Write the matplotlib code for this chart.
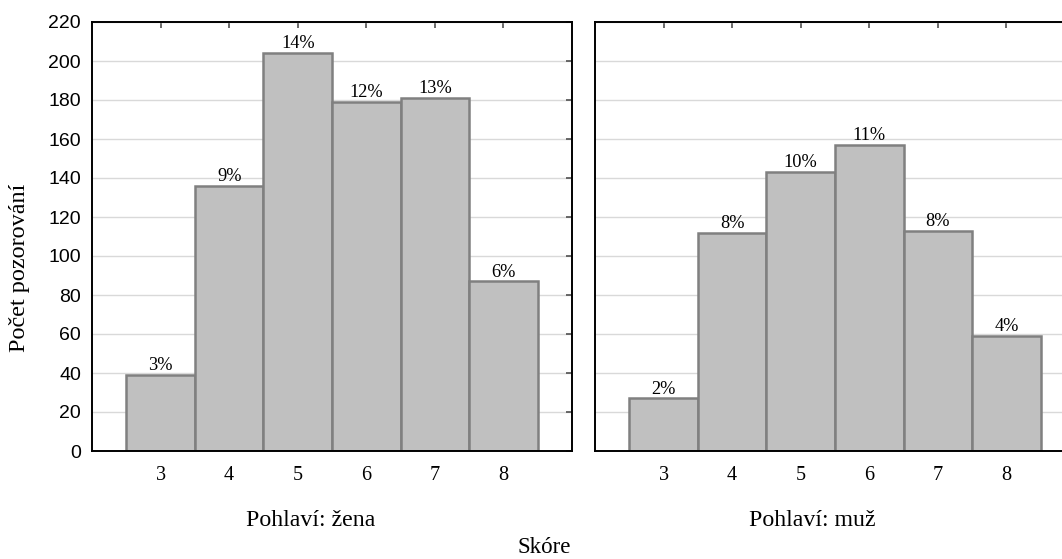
import matplotlib
matplotlib.use("Agg")
import matplotlib.pyplot as plt

scores = [3, 4, 5, 6, 7, 8]
counts_zena = [39, 136, 204, 179, 181, 87]
pct_zena = ["3%", "9%", "14%", "12%", "13%", "6%"]
counts_muz = [27, 112, 143, 157, 113, 59]
pct_muz = ["2%", "8%", "10%", "11%", "8%", "4%"]
panel_titles = ["Pohlaví: žena", "Pohlaví: muž"]
y_ticks = list(range(0, 221, 20))

W, H = 1062, 559
fig = plt.figure(figsize=(W / 100, H / 100), dpi=100)

serif = ["Liberation Serif", "DejaVu Serif"]
sans = ["Liberation Sans", "DejaVu Sans"]

def make_ax(left_px):
    return fig.add_axes([left_px / W, (H - 451) / H, 480 / W, 429 / H])

ax1 = make_ax(92)
ax2 = make_ax(595)

for ax, counts, pcts, show_y in [
    (ax1, counts_zena, pct_zena, True),
    (ax2, counts_muz, pct_muz, False),
]:
    ax.set_axisbelow(True)
    ax.yaxis.grid(True, color="#d9d9d9", linewidth=1.0)
    bars = ax.bar(scores, counts, width=1.0, facecolor="#c0c0c0",
                  edgecolor="#808080", linewidth=1.8)
    for b, p in zip(bars, pcts):
        ax.annotate(p, (b.get_x() + b.get_width() / 2, b.get_height()),
                    xytext=(0, 3.4), textcoords="offset points",
                    ha="center", va="baseline", fontsize=13.2, family=serif)
    ax.set_xlim(2, 9)
    ax.set_ylim(0, 220)
    ax.set_xticks(scores)
    ax.set_xticklabels([str(s) for s in scores], family=serif, fontsize=14.6)
    ax.set_yticks(y_ticks)
    ax.tick_params(axis="x", direction="in", top=True, bottom=True,
                   length=4, width=1.2, pad=11, color="#505050")
    ax.tick_params(axis="y", direction="in", left=False, right=True,
                   length=4, width=1.2, pad=8, color="#505050")
    if show_y:
        ax.set_yticklabels([str(v) for v in y_ticks], family=sans, fontsize=14)
    else:
        ax.set_yticklabels([])
    for s in ax.spines.values():
        s.set_linewidth(1.4)
        s.set_color("black")

fig.text(311 / W, 1 - 526 / H, panel_titles[0], ha="center", va="baseline",
         family=serif, fontsize=17.2)
fig.text(812 / W, 1 - 526 / H, panel_titles[1], ha="center", va="baseline",
         family=serif, fontsize=17.2)
fig.text(20 / W, 1 - 268 / H, "Počet pozorování", ha="center", va="center",
         rotation=90, family=serif, fontsize=17.4)
fig.text(544 / W, 1 - 558 / H, "Skóre", ha="center", va="bottom",
         family=serif, fontsize=16.5)

fig.savefig("out.png", dpi=100)
